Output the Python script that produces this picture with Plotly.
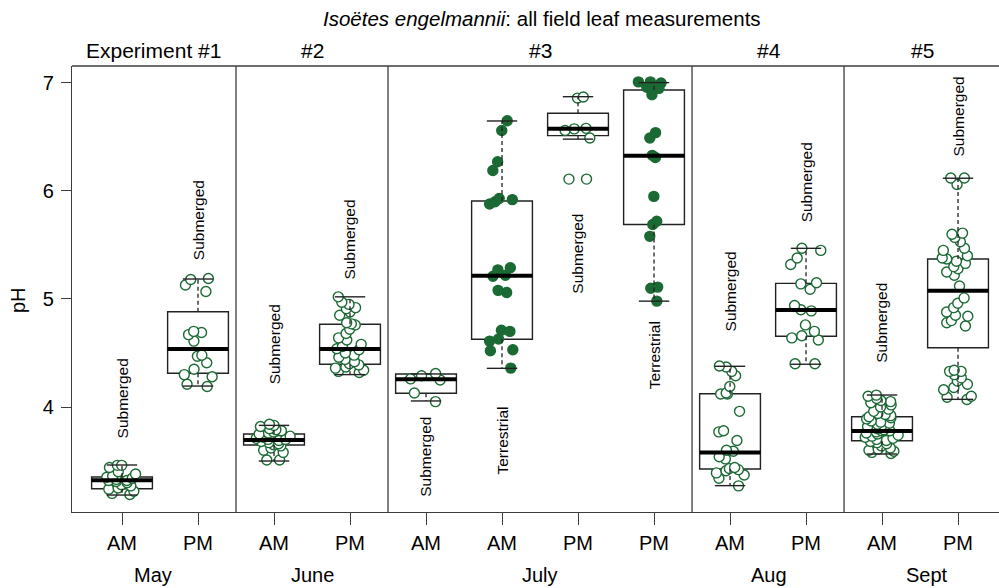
import plotly.graph_objects as go

# ---------------- data ----------------
tick_text = ["AM", "PM", "AM", "PM", "AM", "AM", "PM", "PM", "AM", "PM", "AM", "PM"]
habitat = ["Submerged", "Submerged", "Submerged", "Submerged", "Submerged", "Terrestrial",
           "Submerged", "Terrestrial", "Submerged", "Submerged", "Submerged", "Submerged"]
months = ["May", "June", "July", "Aug", "Sept"]
experiments = ["Experiment #1", "#2", "#3", "#4", "#5"]
panel_sizes = [2, 2, 4, 2, 2]

ph_values = [
    [3.46, 3.46, 3.44, 3.40, 3.38, 3.36, 3.35, 3.34, 3.33, 3.32, 3.32, 3.31, 3.30, 3.28, 3.27,
     3.25, 3.24, 3.22, 3.20, 3.19],
    [5.19, 5.18, 5.13, 5.07, 4.70, 4.69, 4.67, 4.61, 4.48, 4.47, 4.41, 4.35, 4.30, 4.28, 4.21, 4.19],
    [3.84, 3.83, 3.82, 3.80, 3.79, 3.78, 3.77, 3.76, 3.75, 3.74, 3.73, 3.72, 3.71, 3.70, 3.70,
     3.69, 3.68, 3.67, 3.66, 3.65, 3.64, 3.62, 3.60, 3.58, 3.51, 3.51],
    [5.02, 4.97, 4.95, 4.92, 4.91, 4.88, 4.85, 4.78, 4.77, 4.76, 4.72, 4.68, 4.64, 4.62, 4.58,
     4.56, 4.54, 4.53, 4.50, 4.48, 4.46, 4.44, 4.42, 4.40, 4.39, 4.37, 4.36, 4.34, 4.33, 4.32],
    [4.31, 4.29, 4.26, 4.25, 4.13, 4.05],
    [6.65, 6.56, 6.27, 6.19, 5.93, 5.92, 5.90, 5.88, 5.29, 5.27, 5.22, 5.21, 5.08, 5.06, 4.71,
     4.70, 4.63, 4.61, 4.53, 4.52, 4.36],
    [6.87, 6.86, 6.58, 6.575, 6.56, 6.49, 6.11, 6.11],
    [7.01, 7.01, 7.00, 6.98, 6.96, 6.95, 6.89, 6.54, 6.49, 6.33, 6.31, 5.95, 5.72, 5.69, 5.58,
     5.11, 5.10, 4.98],
    [4.38, 4.37, 4.33, 4.29, 4.19, 4.13, 4.12, 4.12, 3.96, 3.78, 3.77, 3.69, 3.60, 3.59, 3.54,
     3.52, 3.44, 3.43, 3.42, 3.41, 3.39, 3.37, 3.34, 3.27],
    [5.47, 5.45, 5.38, 5.32, 5.15, 5.14, 5.09, 4.94, 4.90, 4.89, 4.76, 4.70, 4.66, 4.64, 4.62,
     4.40, 4.40],
    [4.11, 4.10, 4.08, 4.06, 4.05, 4.04, 4.02, 4.00, 3.98, 3.96, 3.94, 3.93, 3.92, 3.91, 3.90,
     3.89, 3.87, 3.86, 3.85, 3.84, 3.83, 3.82, 3.80, 3.79, 3.78, 3.78, 3.77, 3.76, 3.75, 3.74,
     3.73, 3.72, 3.71, 3.70, 3.69, 3.68, 3.67, 3.66, 3.64, 3.62, 3.61, 3.60, 3.59, 3.58, 3.57],
    [6.12, 6.12, 6.06, 5.61, 5.60, 5.57, 5.53, 5.47, 5.45, 5.40, 5.38, 5.37, 5.35, 5.33, 5.30,
     5.28, 5.25, 5.22, 5.12, 5.01, 4.96, 4.92, 4.88, 4.85, 4.84, 4.80, 4.78, 4.75, 4.34, 4.33,
     4.33, 4.30, 4.27, 4.24, 4.21, 4.18, 4.16, 4.10, 4.09, 4.07],
]

# box statistics (Tukey hinges / whisker ends) as drawn
q1 = [3.243, 4.312, 3.648, 4.396, 4.127, 4.627, 6.512, 5.690, 3.426, 4.655, 3.688, 4.549]
med = [3.321, 4.537, 3.694, 4.537, 4.256, 5.216, 6.577, 6.327, 3.578, 4.898, 3.778, 5.077]
q3 = [3.352, 4.882, 3.750, 4.766, 4.306, 5.907, 6.720, 6.935, 4.123, 5.145, 3.910, 5.370]
whisk_lo = [3.185, 4.194, 3.500, 4.300, 4.056, 4.358, 6.480, 4.980, 3.272, 4.396, 3.565, 4.071]
whisk_hi = [3.463, 5.185, 3.830, 5.020, 4.306, 6.648, 6.873, 7.003, 4.377, 5.469, 4.111, 6.118]

# vertical label centres (pH units)
label_y = [4.08, 5.73, 4.58, 5.55, 3.54, 3.69, 5.42, 4.48, 5.07, 6.08, 4.78, 6.69]
month_x = [1.41, 3.5, 6.5, 9.51, 11.59]
exp_x = [1.41, 3.51, 6.51, 9.51, 11.53]

# ---------------- style ----------------
GREEN = "#1b6a34"
FRAME = "#3c3c3c"
FONT = "Liberation Sans, Arial, Helvetica, sans-serif"
BOXW = 0.8
CAPW = 0.4

positions = list(range(1, len(tick_text) + 1))

fig = go.Figure()

# box bodies
for i, p in enumerate(positions):
    fig.add_trace(go.Box(
        x=[p], q1=[q1[i]], median=[med[i]], q3=[q3[i]],
        lowerfence=[q1[i]], upperfence=[q3[i]],
        width=BOXW, whiskerwidth=0,
        fillcolor="white", line=dict(color="#222222", width=1.4),
        boxpoints=False, hoverinfo="skip", showlegend=False,
    ))

# dashed whiskers
wx, wy = [], []
for i, p in enumerate(positions):
    wx += [p, p, None, p, p, None]
    wy += [q3[i], whisk_hi[i], None, q1[i], whisk_lo[i], None]
fig.add_trace(go.Scatter(x=wx, y=wy, mode="lines",
                         line=dict(color="#222222", width=1.3, dash="4px,3px"),
                         hoverinfo="skip", showlegend=False))

# whisker caps
cx, cy = [], []
for i, p in enumerate(positions):
    for v in (whisk_hi[i], whisk_lo[i]):
        cx += [p - CAPW / 2, p + CAPW / 2, None]
        cy += [v, v, None]
fig.add_trace(go.Scatter(x=cx, y=cy, mode="lines",
                         line=dict(color="#222222", width=1.4),
                         hoverinfo="skip", showlegend=False))

# thick medians
mx, my = [], []
for i, p in enumerate(positions):
    mx += [p - BOXW / 2, p + BOXW / 2, None]
    my += [med[i], med[i], None]
fig.add_trace(go.Scatter(x=mx, y=my, mode="lines",
                         line=dict(color="black", width=4),
                         hoverinfo="skip", showlegend=False))

# jittered points
for i, p in enumerate(positions):
    filled = habitat[i] == "Terrestrial"
    fig.add_trace(go.Box(
        x=[p] * len(ph_values[i]), y=ph_values[i],
        boxpoints="all", jitter=0.6, pointpos=0, width=BOXW,
        fillcolor="rgba(0,0,0,0)", line=dict(color="rgba(0,0,0,0)", width=0),
        marker=dict(size=10,
                    color=GREEN if filled else "white",
                    line=dict(color=GREEN, width=1.4)),
        hoverinfo="skip", showlegend=False,
    ))

annotations = []
# habitat labels (rotated)
for i, p in enumerate(positions):
    annotations.append(dict(x=p, y=label_y[i], xref="x", yref="y", text=habitat[i],
                            textangle=-90, showarrow=False,
                            font=dict(size=15.5, color="black", family=FONT)))
# month labels
for m, x in zip(months, month_x):
    annotations.append(dict(x=x, y=0, xref="x", yref="paper", text=m, showarrow=False,
                            yanchor="middle", yshift=-63,
                            font=dict(size=20, color="black", family=FONT)))
# experiment labels
for e, x in zip(experiments, exp_x):
    annotations.append(dict(x=x, y=1, xref="x", yref="paper", text=e, showarrow=False,
                            yanchor="middle", yshift=16,
                            font=dict(size=21, color="black", family=FONT)))
# title
annotations.append(dict(x=6.53, y=1, xref="x", yref="paper",
                        text="<i>Isoëtes engelmannii</i>: all field leaf measurements",
                        showarrow=False, yanchor="middle", yshift=48,
                        font=dict(size=20.5, color="black", family=FONT)))
# y title
annotations.append(dict(x=0, y=4.99, xref="paper", yref="y", text="pH", textangle=-90,
                        showarrow=False, xanchor="center", xshift=-54,
                        font=dict(size=20, color="black", family=FONT)))

shapes = []
# panel separators
b = 0.5
for s in panel_sizes[:-1]:
    b += s
    shapes.append(dict(type="line", xref="x", yref="paper", x0=b, x1=b, y0=0, y1=1,
                       line=dict(color=FRAME, width=1.3)))
# top frame line
shapes.append(dict(type="line", xref="paper", yref="paper", x0=0, x1=1, y0=1, y1=1,
                   line=dict(color=FRAME, width=1.3)))

fig.update_layout(
    width=999, height=588,
    margin=dict(l=72, r=0, t=66, b=76),
    plot_bgcolor="white", paper_bgcolor="white",
    boxmode="overlay",
    showlegend=False,
    font=dict(family=FONT, color="black"),
    annotations=annotations,
    shapes=shapes,
    xaxis=dict(range=[0.342, 12.539], tickmode="array", tickvals=positions, ticktext=tick_text,
               ticks="outside", ticklen=12, tickwidth=1.2, tickcolor=FRAME,
               showline=True, linecolor=FRAME, linewidth=1.3, showgrid=False, zeroline=False,
               tickfont=dict(size=20, color="black", family=FONT), ticklabelstandoff=1),
    yaxis=dict(range=[3.028, 7.157], tickmode="array", tickvals=[4, 5, 6, 7],
               ticks="outside", ticklen=10, tickwidth=1.2, tickcolor=FRAME,
               showline=True, linecolor=FRAME, linewidth=1.3, showgrid=False, zeroline=False,
               tickfont=dict(size=20, color="black", family=FONT), ticklabelstandoff=3),
)

fig.write_html("out.html")
